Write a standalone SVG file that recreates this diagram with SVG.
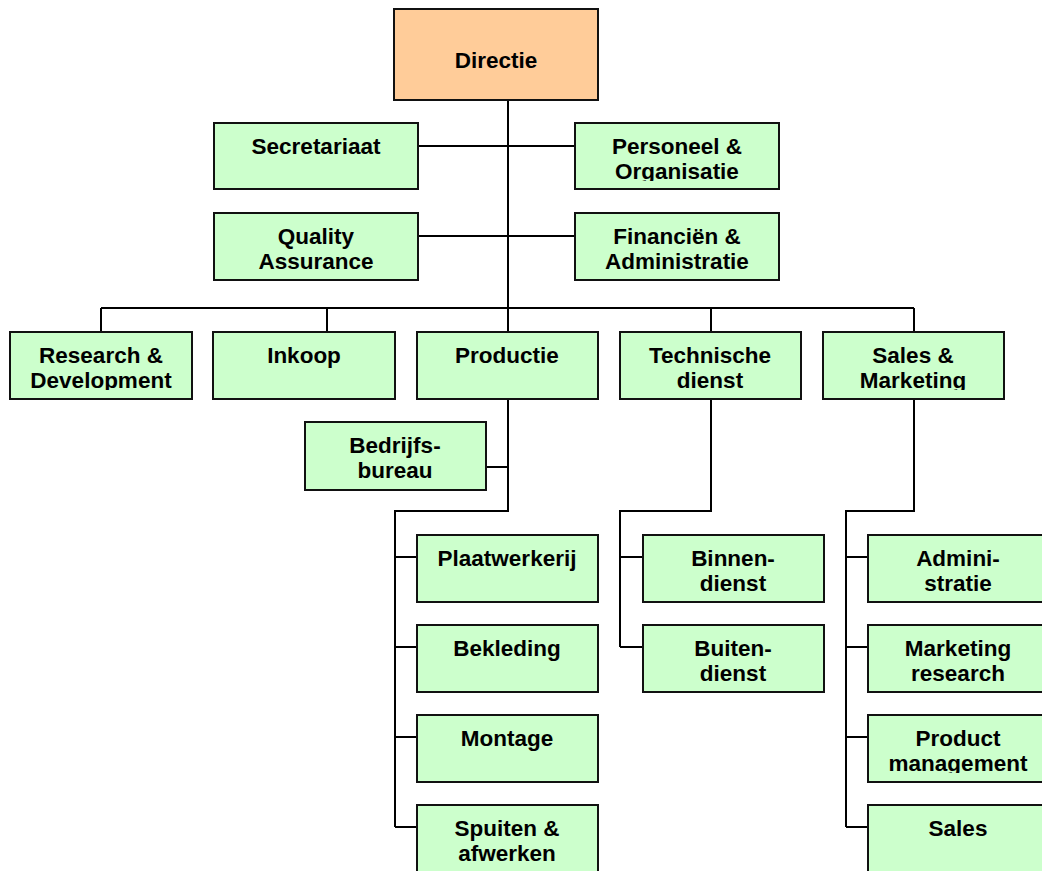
<svg xmlns="http://www.w3.org/2000/svg" width="1042" height="871" viewBox="0 0 1042 871">
<style>
.box{fill:#CCFFCC;stroke:#111;stroke-width:2}
.top{fill:#FFCC99;stroke:#111;stroke-width:2}
.t{font-family:"Liberation Sans",Arial,sans-serif;font-weight:bold;font-size:22.5px;fill:#000;text-anchor:middle}
.c{fill:none;stroke:#000;stroke-width:2}
</style>
<defs>
<clipPath id="cpPO"><rect x="575" y="123" width="204" height="58"/></clipPath>
<clipPath id="cpRD"><rect x="10" y="332" width="182" height="58"/></clipPath>
<clipPath id="cpSM"><rect x="823" y="332" width="182" height="58"/></clipPath>
<clipPath id="cpPM"><rect x="868" y="715" width="181" height="58"/></clipPath>
</defs>
<rect width="1042" height="871" fill="#fff"/>
<g id="connectors" class="c">
<path d="M508 100V308M418 146H575M418 236H575M101 308H914M101 308V332M327 308V332M508 308V332M711 308V332M914 308V332"/>
<path d="M508 399V511H395V827M486 467H508M395 557H417M395 647H417M395 737H417M395 827H417"/>
<path d="M711 399V511H620V647M620 557H643M620 647H643"/>
<path d="M914 399V511H846V827M846 557H868M846 647H868M846 737H868M846 827H868"/>
</g>
<g id="directie"><rect class="top" x="394" y="9" width="204" height="91"/><text class="t" x="496" y="68">Directie</text></g>
<g id="secretariaat"><rect class="box" x="214" y="123" width="204" height="66"/><text class="t" x="316" y="154">Secretariaat</text></g>
<g id="personeel"><rect class="box" x="575" y="123" width="204" height="66"/><g clip-path="url(#cpPO)"><text class="t" x="677" y="154">Personeel &amp;</text><text class="t" x="677" y="179">Organisatie</text></g></g>
<g id="quality"><rect class="box" x="214" y="213" width="204" height="67"/><text class="t" x="316" y="244">Quality</text><text class="t" x="316" y="269">Assurance</text></g>
<g id="financien"><rect class="box" x="575" y="213" width="204" height="67"/><text class="t" x="677" y="244">Financiën &amp;</text><text class="t" x="677" y="269">Administratie</text></g>
<g id="rd"><rect class="box" x="10" y="332" width="182" height="67"/><g clip-path="url(#cpRD)"><text class="t" x="101" y="363">Research &amp;</text><text class="t" x="101" y="388">Development</text></g></g>
<g id="inkoop"><rect class="box" x="213" y="332" width="182" height="67"/><text class="t" x="304" y="363">Inkoop</text></g>
<g id="productie"><rect class="box" x="417" y="332" width="181" height="67"/><text class="t" x="507" y="363">Productie</text></g>
<g id="technische"><rect class="box" x="620" y="332" width="181" height="67"/><text class="t" x="710" y="363">Technische</text><text class="t" x="710" y="388">dienst</text></g>
<g id="sales-marketing"><rect class="box" x="823" y="332" width="181" height="67"/><g clip-path="url(#cpSM)"><text class="t" x="913" y="363">Sales &amp;</text><text class="t" x="913" y="388">Marketing</text></g></g>
<g id="bedrijfsbureau"><rect class="box" x="305" y="422" width="181" height="68"/><text class="t" x="395" y="453">Bedrijfs-</text><text class="t" x="395" y="478">bureau</text></g>
<g id="plaatwerkerij"><rect class="box" x="417" y="535" width="181" height="67"/><text class="t" x="507" y="566">Plaatwerkerij</text></g>
<g id="bekleding"><rect class="box" x="417" y="625" width="181" height="67"/><text class="t" x="507" y="656">Bekleding</text></g>
<g id="montage"><rect class="box" x="417" y="715" width="181" height="67"/><text class="t" x="507" y="746">Montage</text></g>
<g id="spuiten"><rect class="box" x="417" y="805" width="181" height="67"/><text class="t" x="507" y="836">Spuiten &amp;</text><text class="t" x="507" y="861">afwerken</text></g>
<g id="binnendienst"><rect class="box" x="643" y="535" width="181" height="67"/><text class="t" x="733" y="566">Binnen-</text><text class="t" x="733" y="591">dienst</text></g>
<g id="buitendienst"><rect class="box" x="643" y="625" width="181" height="67"/><text class="t" x="733" y="656">Buiten-</text><text class="t" x="733" y="681">dienst</text></g>
<g id="administratie"><rect class="box" x="868" y="535" width="181" height="67"/><text class="t" x="958" y="566">Admini-</text><text class="t" x="958" y="591">stratie</text></g>
<g id="marketing-research"><rect class="box" x="868" y="625" width="181" height="67"/><text class="t" x="958" y="656">Marketing</text><text class="t" x="958" y="681">research</text></g>
<g id="product-management"><rect class="box" x="868" y="715" width="181" height="67"/><g clip-path="url(#cpPM)"><text class="t" x="958" y="746">Product</text><text class="t" x="958" y="771">management</text></g></g>
<g id="sales"><rect class="box" x="868" y="805" width="181" height="67"/><text class="t" x="958" y="836">Sales</text></g>
</svg>
